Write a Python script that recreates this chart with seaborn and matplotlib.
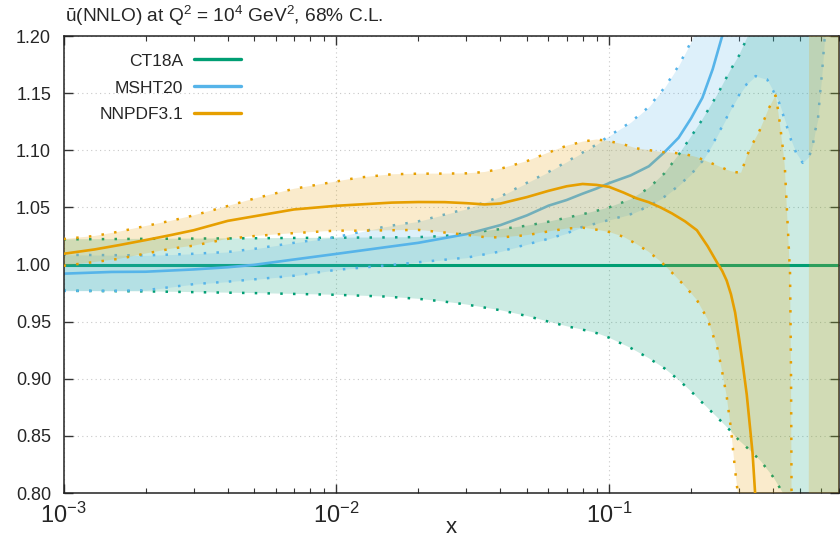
import numpy as np
import pandas as pd
import matplotlib
matplotlib.use("Agg")
import matplotlib.pyplot as plt
import seaborn as sns
from matplotlib.lines import Line2D
from matplotlib.ticker import LogLocator, MultipleLocator, FormatStrFormatter, NullFormatter

# ---------------- data (ratio to CT18A) ----------------
labels = ["CT18A", "MSHT20", "NNPDF3.1"]
colors = ["#009E73", "#56B4E9", "#E69F00"]

x_ct = [0.001, 0.002, 0.005, 0.01, 0.015, 0.02, 0.025, 0.03, 0.04, 0.05, 0.06, 0.07, 0.08, 0.09, 0.1,
        0.12, 0.14, 0.16, 0.18, 0.2, 0.22, 0.25, 0.28, 0.3, 0.33, 0.36, 0.4, 0.45, 0.5, 0.6, 0.7]
ct_c = [1.0] * len(x_ct)
ct_up = [1.022, 1.0225, 1.023, 1.0235, 1.0237, 1.024, 1.025, 1.0275, 1.031, 1.034, 1.0375, 1.041, 1.044,
         1.047, 1.050, 1.057, 1.067, 1.080, 1.096, 1.112, 1.127, 1.149, 1.171, 1.183, 1.205, 1.225, 1.25,
         1.30, 1.35, 1.45, 1.50]
ct_lo = [0.977, 0.9765, 0.975, 0.9735, 0.972, 0.970, 0.9675, 0.965, 0.960, 0.955, 0.950, 0.946, 0.943,
         0.940, 0.936, 0.927, 0.918, 0.909, 0.899, 0.889, 0.879, 0.866, 0.854, 0.846, 0.837, 0.828, 0.814,
         0.794, 0.77, 0.70, 0.60]

x_ms = [0.001, 0.0015, 0.002, 0.003, 0.004, 0.005, 0.007, 0.01, 0.015, 0.02, 0.03, 0.04, 0.05, 0.06, 0.07,
        0.08, 0.09, 0.1, 0.12, 0.14, 0.16, 0.18, 0.2, 0.22, 0.24, 0.26, 0.28, 0.30, 0.32, 0.345, 0.38, 0.40,
        0.42, 0.435, 0.45, 0.465, 0.485, 0.513, 0.543, 0.56, 0.57, 0.584, 0.595, 0.605, 0.617, 0.64, 0.7]
ms_c = [0.992, 0.9935, 0.9937, 0.9957, 0.9976, 0.9997, 1.0044, 1.0093, 1.015, 1.019, 1.0266, 1.0345, 1.043,
        1.0515, 1.0565, 1.062, 1.0665, 1.0712, 1.078, 1.086, 1.0985, 1.111, 1.128, 1.146, 1.171, 1.200,
        1.23, 1.26, 1.29, 1.32, 1.35, 1.36, 1.37, 1.38, 1.38, 1.38, 1.38, 1.38, 1.38, 1.38, 1.38, 1.38,
        1.38, 1.38, 1.38, 1.38, 1.38]
ms_up = [1.0085, 1.0082, 1.008, 1.0094, 1.011, 1.0137, 1.019, 1.024, 1.033, 1.0378, 1.0487, 1.0595, 1.0715,
         1.081, 1.090, 1.098, 1.105, 1.1125, 1.1245, 1.138, 1.155, 1.174, 1.195, 1.22, 1.245, 1.27, 1.29,
         1.31, 1.33, 1.35, 1.40, 1.40, 1.40, 1.40, 1.40, 1.40, 1.40, 1.40, 1.40, 1.40, 1.40, 1.40, 1.40,
         1.40, 1.40, 1.40, 1.40]
ms_lo = [0.977, 0.977, 0.9775, 0.9828, 0.985, 0.987, 0.9902, 0.9953, 0.999, 1.002, 1.006, 1.0114, 1.0176,
         1.0225, 1.0273, 1.033, 1.036, 1.039, 1.044, 1.051, 1.0595, 1.069, 1.079, 1.0905, 1.1055, 1.121,
         1.136, 1.1485, 1.158, 1.165, 1.162, 1.152, 1.142, 1.131, 1.12, 1.109, 1.098, 1.089, 1.095, 1.106,
         1.117, 1.128, 1.151, 1.17, 1.197, 1.25, 1.35]

x_nn = [0.001, 0.0013, 0.0016, 0.002, 0.0025, 0.003, 0.004, 0.005, 0.007, 0.01, 0.012, 0.016, 0.02, 0.025,
        0.03, 0.035, 0.04, 0.05, 0.06, 0.07, 0.08, 0.09, 0.1, 0.113, 0.126, 0.14, 0.155, 0.17, 0.19, 0.21,
        0.23, 0.25, 0.26, 0.27, 0.28, 0.29, 0.3, 0.305, 0.31, 0.32, 0.336, 0.354, 0.37, 0.385, 0.404, 0.408,
        0.412, 0.419, 0.425, 0.43, 0.436, 0.441, 0.446, 0.451, 0.456, 0.461, 0.463, 0.465, 0.467, 0.5, 0.54,
        0.542, 0.6, 0.7]
nn_c = [1.0094, 1.0132, 1.017, 1.0214, 1.026, 1.030, 1.0382, 1.0422, 1.0482, 1.0514, 1.0525, 1.0542, 1.0547,
        1.0546, 1.0537, 1.0526, 1.0534, 1.059, 1.0645, 1.0685, 1.0705, 1.0697, 1.068, 1.063, 1.058, 1.0545,
        1.0498, 1.0448, 1.0378, 1.030, 1.016, 1.001, 0.9945, 0.986, 0.974, 0.958, 0.935, 0.923, 0.911, 0.886,
        0.835, 0.75, 0.72, 0.70, 0.68, 0.68, 0.67, 0.67, 0.66, 0.66, 0.66, 0.65, 0.65, 0.65, 0.64, 0.64, 0.64,
        0.63, 0.63, 0.60, 0.55, 0.55, 0.52, 0.50]
nn_up = [1.0223, 1.025, 1.0288, 1.0337, 1.0385, 1.043, 1.0512, 1.0577, 1.0663, 1.0727, 1.076, 1.079, 1.0795,
         1.0796, 1.0798, 1.081, 1.0838, 1.0905, 1.098, 1.104, 1.1075, 1.1095, 1.108, 1.1052, 1.1017, 1.1002,
         1.0985, 1.098, 1.0966, 1.094, 1.090, 1.0865, 1.0848, 1.083, 1.0817, 1.0809, 1.0805, 1.0803, 1.085,
         1.095, 1.1057, 1.1155, 1.1263, 1.1365, 1.146, 1.148, 1.143, 1.131, 1.12, 1.109, 1.098, 1.0863,
         1.063, 1.039, 1.016, 0.9925, 0.95, 0.90, 0.80, 0.75, 0.75, 1.50, 1.50, 1.50]
nn_lo = [0.9989, 1.0022, 1.005, 1.0096, 1.014, 1.0165, 1.0225, 1.0249, 1.0275, 1.0297, 1.0296, 1.030, 1.0303,
         1.028, 1.026, 1.024, 1.0237, 1.0257, 1.029, 1.0315, 1.0323, 1.0305, 1.0285, 1.0243, 1.018, 1.011,
         1.0025, 0.993, 0.981, 0.969, 0.952, 0.9265, 0.906, 0.885, 0.856, 0.820, 0.79, 0.78, 0.77, 0.75, 0.72,
         0.70, 0.68, 0.66, 0.64, 0.64, 0.63, 0.63, 0.62, 0.62, 0.62, 0.61, 0.61, 0.61, 0.60, 0.60, 0.60, 0.60,
         0.60, 0.58, 0.55, 0.55, 0.52, 0.50]

sets = [
    (x_ct, ct_c, ct_up, ct_lo),
    (x_ms, ms_c, ms_up, ms_lo),
    (x_nn, nn_c, nn_up, nn_lo),
]

title = "ū(NNLO) at Q$^2$ = 10$^4$ GeV$^2$, 68% C.L."

# ---------------- style ----------------
sns.set_theme(style="ticks")
plt.rcParams["font.family"] = ["Liberation Sans", "DejaVu Sans"]
plt.rcParams["mathtext.fontset"] = "custom"
plt.rcParams["mathtext.rm"] = "Liberation Sans"
plt.rcParams["mathtext.it"] = "Liberation Sans:italic"
plt.rcParams["mathtext.bf"] = "Liberation Sans:bold"
plt.rcParams["mathtext.default"] = "regular"
plt.rcParams["axes.unicode_minus"] = False

fig = plt.figure(figsize=(8.4, 5.41), dpi=100)
ax = fig.add_axes([0.0756, 0.0887, 0.9238, 0.8447])
ax.set_xscale("log")


def broken(xs, ys, jump=0.5):
    """Break a boundary curve where it jumps across the whole window (band discontinuity)."""
    xs = np.asarray(xs, float)
    ys = np.asarray(ys, float)
    xo, yo = [xs[0]], [ys[0]]
    for i in range(1, len(xs)):
        if abs(ys[i] - ys[i - 1]) > jump:
            xo.append(np.nan)
            yo.append(np.nan)
        xo.append(xs[i])
        yo.append(ys[i])
    return xo, yo


dot_style = (0, (1.0, 4.1))
z = 1
for (xs, c, up, lo), col, lab in zip(sets, colors, labels):
    ax.fill_between(xs, lo, up, color=col, alpha=0.2, linewidth=0, zorder=z)
    for bound in (up, lo):
        bx, by = broken(xs, bound)
        ax.plot(bx, by, color=col, linestyle=dot_style, linewidth=1.8, zorder=z + 0.1)
    df = pd.DataFrame({"x": xs, "y": c})
    sns.lineplot(data=df, x="x", y="y", ax=ax, color=col,
                 linewidth=2.2 if lab == "CT18A" else 1.9,
                 estimator=None, sort=False, zorder=z + 0.2)
    z += 1

ax.set_xlim(1e-3, 0.7)
ax.set_ylim(0.8, 1.2)

# ticks
ax.xaxis.set_major_locator(LogLocator(base=10, numticks=10))
ax.xaxis.set_minor_locator(LogLocator(base=10, subs=np.arange(2, 10), numticks=10))
ax.xaxis.set_minor_formatter(NullFormatter())
ax.yaxis.set_major_locator(MultipleLocator(0.05))
ax.yaxis.set_major_formatter(FormatStrFormatter("%.2f"))
ax.tick_params(which="both", direction="in", top=True, right=True, color="#333333")
ax.tick_params(which="major", length=6.5, width=1.0)
ax.tick_params(which="minor", length=3.5, width=0.8)
ax.tick_params(axis="y", labelsize=13, pad=9)
ax.tick_params(axis="x", labelsize=17, pad=7)

ax.grid(True, which="major", linestyle=(0, (1, 3)), color="#c8c8c8", linewidth=0.8)
ax.set_axisbelow(True)
for s in ax.spines.values():
    s.set_color("#222222")
    s.set_linewidth(1.1)

ax.set_xlabel("x", fontsize=16)
ax.set_ylabel("")
ax.xaxis.set_label_coords(0.5, -0.052)

handles = [Line2D([0], [0], color=c, linewidth=2.4) for c in colors]
leg = ax.legend(handles, labels, loc="upper left", bbox_to_anchor=(0.046, 0.962),
                frameon=False, markerfirst=False, fontsize=12.5, handlelength=2.75,
                handletextpad=0.62, labelspacing=0.68, borderpad=0, borderaxespad=0)

fig.text(65 / 840, 1 - 16 / 541, title, ha="left", va="center", fontsize=13.8)

fig.savefig("out.png", dpi=100)
